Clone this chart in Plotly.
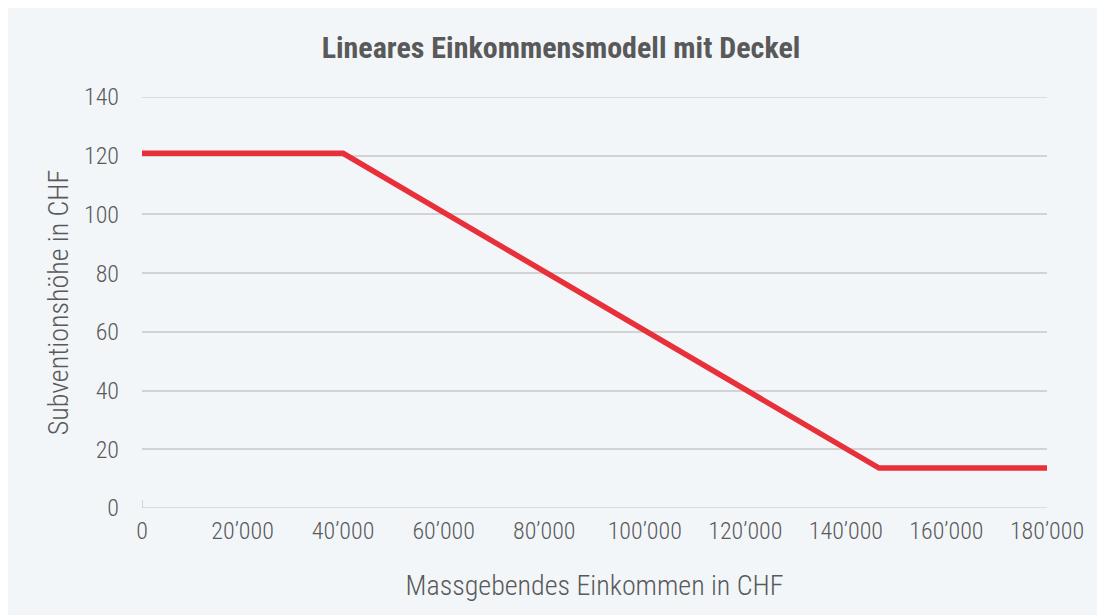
import plotly.graph_objects as go

income = [0, 40000, 146600, 180000]
subsidy = [120.8, 120.8, 13.6, 13.6]
x_ticks = [0, 20000, 40000, 60000, 80000, 100000, 120000, 140000, 160000, 180000]
x_tick_labels = ["0", "20’000", "40’000", "60’000", "80’000", "100’000", "120’000", "140’000", "160’000", "180’000"]
y_ticks = [0, 20, 40, 60, 80, 100, 120, 140]

FONT = "Roboto Condensed, Liberation Sans Narrow, Arial Narrow, Roboto, sans-serif"
TXT = "#595959"
BG = "#f2f6f9"
GRID = "#d3d3d3"

fig = go.Figure()
fig.add_trace(go.Scatter(
    x=income, y=subsidy, mode="lines",
    line=dict(color="#e8303a", width=5.5),
    hoverinfo="skip", showlegend=False,
))

OFF = 8  # page body margin
W, H = 1105, 615
L = 142 - OFF
T = 97 - OFF
R = W - (1047 - OFF)
B = H - (508 - OFF)
pw = W - L - R
ph = H - T - B

def px2x(px):
    return (px - OFF - L) / pw

def py2y(py):
    return (H - B - (py - OFF)) / ph

fig.add_shape(type="rect", xref="paper", yref="paper",
              x0=px2x(10), x1=px2x(W + 20), y0=py2y(H + 20), y1=py2y(0),
              fillcolor=BG, line=dict(width=0), layer="below")
# edge gridlines (plotly omits them at the range boundaries)
for v in (y_ticks[0], y_ticks[-1]):
    fig.add_shape(type="line", xref="paper", yref="y", x0=0, x1=1, y0=v, y1=v,
                  line=dict(color=GRID, width=1.5), layer="below")
# small tick at origin
fig.add_shape(type="line", xref="x", yref="paper", x0=x_ticks[0], x1=x_ticks[0],
              y0=0, y1=py2y(500), line=dict(color="#c8c8c8", width=1.5), layer="below")

fig.update_layout(
    width=W, height=H,
    margin=dict(l=L, r=R, t=T, b=B),
    paper_bgcolor=BG,
    plot_bgcolor="rgba(0,0,0,0)",
    title=dict(text="<b>Lineares Einkommensmodell mit Deckel</b>",
               x=(561 - OFF) / W, xanchor="center", y=1 - (47 - OFF) / H, yanchor="middle",
               font=dict(family=FONT, size=30, color=TXT)),
    xaxis=dict(
        range=[0, 180000], tickmode="array", tickvals=x_ticks, ticktext=x_tick_labels,
        showgrid=False, zeroline=False, showline=False, ticks="",
        ticklabelstandoff=6,
        tickfont=dict(family=FONT, size=24, color=TXT, weight=300),
        title=dict(text="Massgebendes Einkommen in CHF",
                   font=dict(family=FONT, size=28, color=TXT, weight=300), standoff=31),
        fixedrange=True,
    ),
    yaxis=dict(
        range=[0, 140], tickmode="array", tickvals=y_ticks,
        showgrid=True, gridcolor=GRID, gridwidth=1.5,
        zeroline=False,
        showline=False, ticks="",
        ticklabelstandoff=22,
        tickfont=dict(family=FONT, size=24, color=TXT, weight=300),
        title=dict(text="Subventionshöhe in CHF",
                   font=dict(family=FONT, size=28, color=TXT, weight=300), standoff=7),
        fixedrange=True,
    ),
)

fig.write_html("out.html")
